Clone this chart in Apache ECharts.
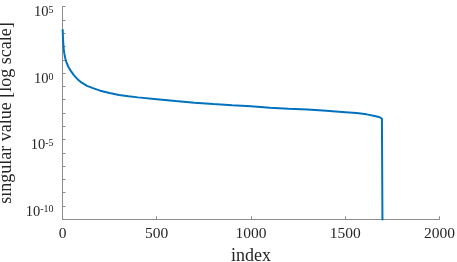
<!DOCTYPE html>
<html>
<head>
<meta charset="utf-8">
<script src="https://cdn.jsdelivr.net/npm/echarts@6/dist/echarts.min.js"></script>
<style>html,body{margin:0;padding:0;background:#fff}#c{width:457px;height:262px}</style>
</head>
<body>
<div id="c"></div>
<script>
const indices = [1, 2, 4, 7, 10, 15, 20, 30, 45, 60, 80, 100, 130, 165, 200, 250, 300, 350, 400, 500, 600, 700, 800, 900, 1000, 1100, 1200, 1300, 1400, 1500, 1560, 1614, 1650, 1680, 1695, 1700, 1701];
const singularValues = [2.0e3, 6.3e2, 1.8e2, 56, 28, 12.6, 7.1, 3.2, 1.4, 0.71, 0.35, 0.2, 0.11, 0.071, 0.048, 0.032, 0.023, 0.018, 0.015, 0.011, 7.9e-3, 6.0e-3, 4.8e-3, 3.9e-3, 3.2e-3, 2.5e-3, 2.1e-3, 1.8e-3, 1.45e-3, 1.15e-3, 9.8e-4, 7.9e-4, 6.3e-4, 5.0e-4, 3.8e-4, 3.2e-4, 1e-20];
const xTicks = [0, 500, 1000, 1500, 2000];
const yLabelExponents = [-10, -5, 0, 5];

const font = 'Liberation Serif';
const textColor = '#262626';
const axisColor = '#8c8c8c';

const chart = echarts.init(document.getElementById('c'), null, {renderer: 'canvas'});
chart.setOption({
  animation: false,
  grid: {left: 62.5, right: 17.6, top: 6.7, bottom: 42.7, containLabel: false, outerBoundsMode: 'none'},
  xAxis: {
    type: 'value', min: xTicks[0], max: xTicks[xTicks.length - 1], interval: 500,
    name: 'index', nameLocation: 'middle', nameGap: 26,
    nameTextStyle: {fontFamily: font, fontSize: 18, color: textColor},
    axisLine: {show: true, onZero: false, lineStyle: {color: axisColor, width: 1}},
    axisTick: {show: true, inside: true, length: 3, lineStyle: {color: axisColor}},
    axisLabel: {fontFamily: font, fontSize: 15.5, color: textColor, margin: 7,
      formatter: function (v) { return String(v); }},
    splitLine: {show: false}
  },
  yAxis: {
    type: 'log', logBase: 10, min: 1e-11, max: 1e5, interval: 1,
    name: 'singular value [log scale]', nameLocation: 'middle', nameGap: 44.5,
    nameTextStyle: {fontFamily: font, fontSize: 18, color: textColor},
    axisLine: {show: true, lineStyle: {color: axisColor, width: 1}},
    axisTick: {show: true, inside: true, length: 3, lineStyle: {color: axisColor}},
    axisLabel: {
      fontFamily: font, fontSize: 14.5, color: textColor, margin: 9,
      padding: [12, 0, 0, 0],
      formatter: function (v) {
        const e = Math.round(Math.log10(v));
        if (yLabelExponents.indexOf(e) < 0) return '';
        return '{b|10}{sup|' + e + '}';
      },
      rich: {
        b: {fontFamily: font, fontSize: 14.5, color: textColor, lineHeight: 14.5, verticalAlign: 'bottom'},
        sup: {fontFamily: font, fontSize: 10, color: textColor, lineHeight: 10, verticalAlign: 'top', padding: [0, 0, 8, 0]}
      }
    },
    splitLine: {show: false}
  },
  series: [{
    type: 'line',
    data: indices.map((x, i) => [x, singularValues[i]]),
    showSymbol: false,
    clip: true,
    lineStyle: {color: '#0072BD', width: 2},
    itemStyle: {color: '#0072BD'}
  }]
});
</script>
</body>
</html>
